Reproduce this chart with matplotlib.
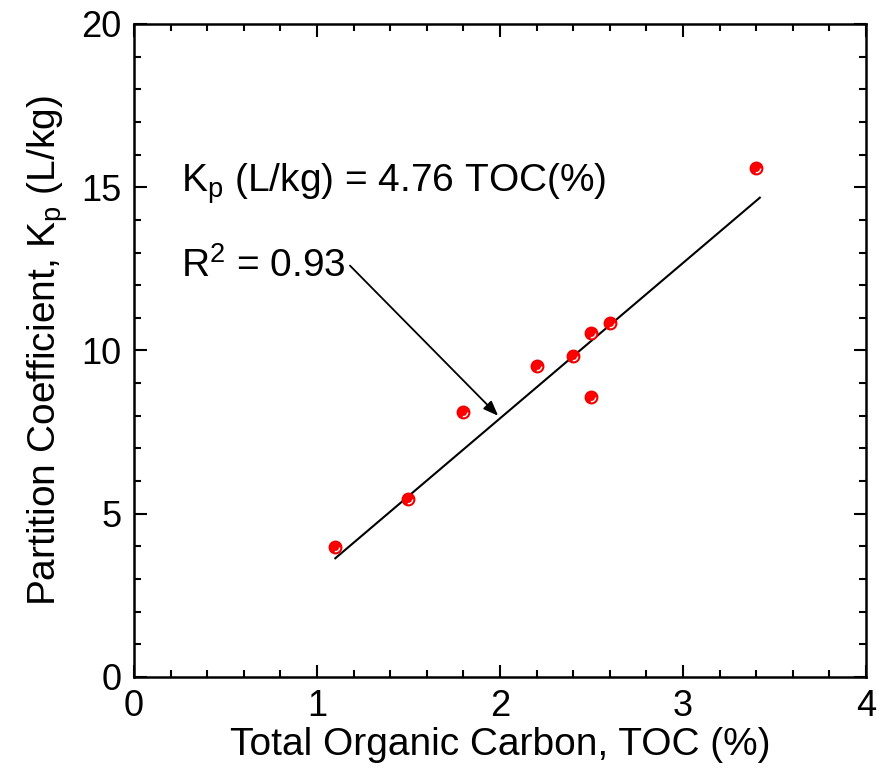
import numpy as np
import matplotlib.pyplot as plt
from matplotlib.path import Path
from matplotlib.ticker import MultipleLocator

plt.rcParams['font.family'] = ['Liberation Sans', 'DejaVu Sans']
plt.rcParams['mathtext.fontset'] = 'custom'
plt.rcParams['mathtext.rm'] = 'Liberation Sans'

# measured TOC (%) and partition coefficient Kp (L/kg)
toc = [1.1, 1.5, 1.8, 2.2, 2.4, 2.5, 2.5, 2.6, 3.4]
kp = [3.98, 5.45, 8.12, 9.52, 9.83, 10.54, 8.57, 10.84, 15.59]

# fitted line as drawn
slope = 4.76
intercept = -1.6
fit_x = [1.1, 3.42]

fig = plt.figure(figsize=(8.84, 7.73), dpi=100)
ax = fig.add_axes([0.1516, 0.1242, 0.828, 0.8448])

fx = np.array(fit_x)
ax.plot(fx, slope * fx + intercept, color='black', lw=1.5)
ax.plot(toc, kp, 'o', color='#ff0000', mec='#ee0000', ms=9, zorder=3)
# white glint arc on each marker
glint = Path.arc(-100, 0)
ax.plot(toc, kp, linestyle='none', marker=glint, mfc='none', mec='white',
        ms=6, mew=1.0, zorder=4)

ax.set_xlim(0, 4)
ax.set_ylim(0, 20)
ax.xaxis.set_major_locator(MultipleLocator(1))
ax.xaxis.set_minor_locator(MultipleLocator(0.2))
ax.yaxis.set_major_locator(MultipleLocator(5))
ax.yaxis.set_minor_locator(MultipleLocator(1))
ax.tick_params(which='both', direction='in', top=True, right=True,
               labelsize=26, width=1.5)
ax.tick_params(which='major', length=9, pad=9)
ax.tick_params(which='minor', length=5)
for s in ax.spines.values():
    s.set_linewidth(1.8)

ax.set_xlabel('Total Organic Carbon, TOC (%)', fontsize=28, labelpad=2)
ax.set_ylabel('Partition Coefficient, K$_\\mathregular{p}$ (L/kg)', fontsize=28, labelpad=8)

ax.text(0.255, 15.1, 'K$_\\mathregular{p}$ (L/kg) = 4.76 TOC(%)', fontsize=28, va='center')
ax.text(0.255, 12.6, 'R$^\\mathregular{2}$ = 0.93', fontsize=28, va='center')
ax.annotate('', xy=(1.99, 8.0), xytext=(1.18, 12.6),
            arrowprops=dict(arrowstyle='-|>,head_length=0.9,head_width=0.35',
                            color='black', lw=1.3, shrinkA=0, shrinkB=0))

fig.savefig('out.png', dpi=100)
